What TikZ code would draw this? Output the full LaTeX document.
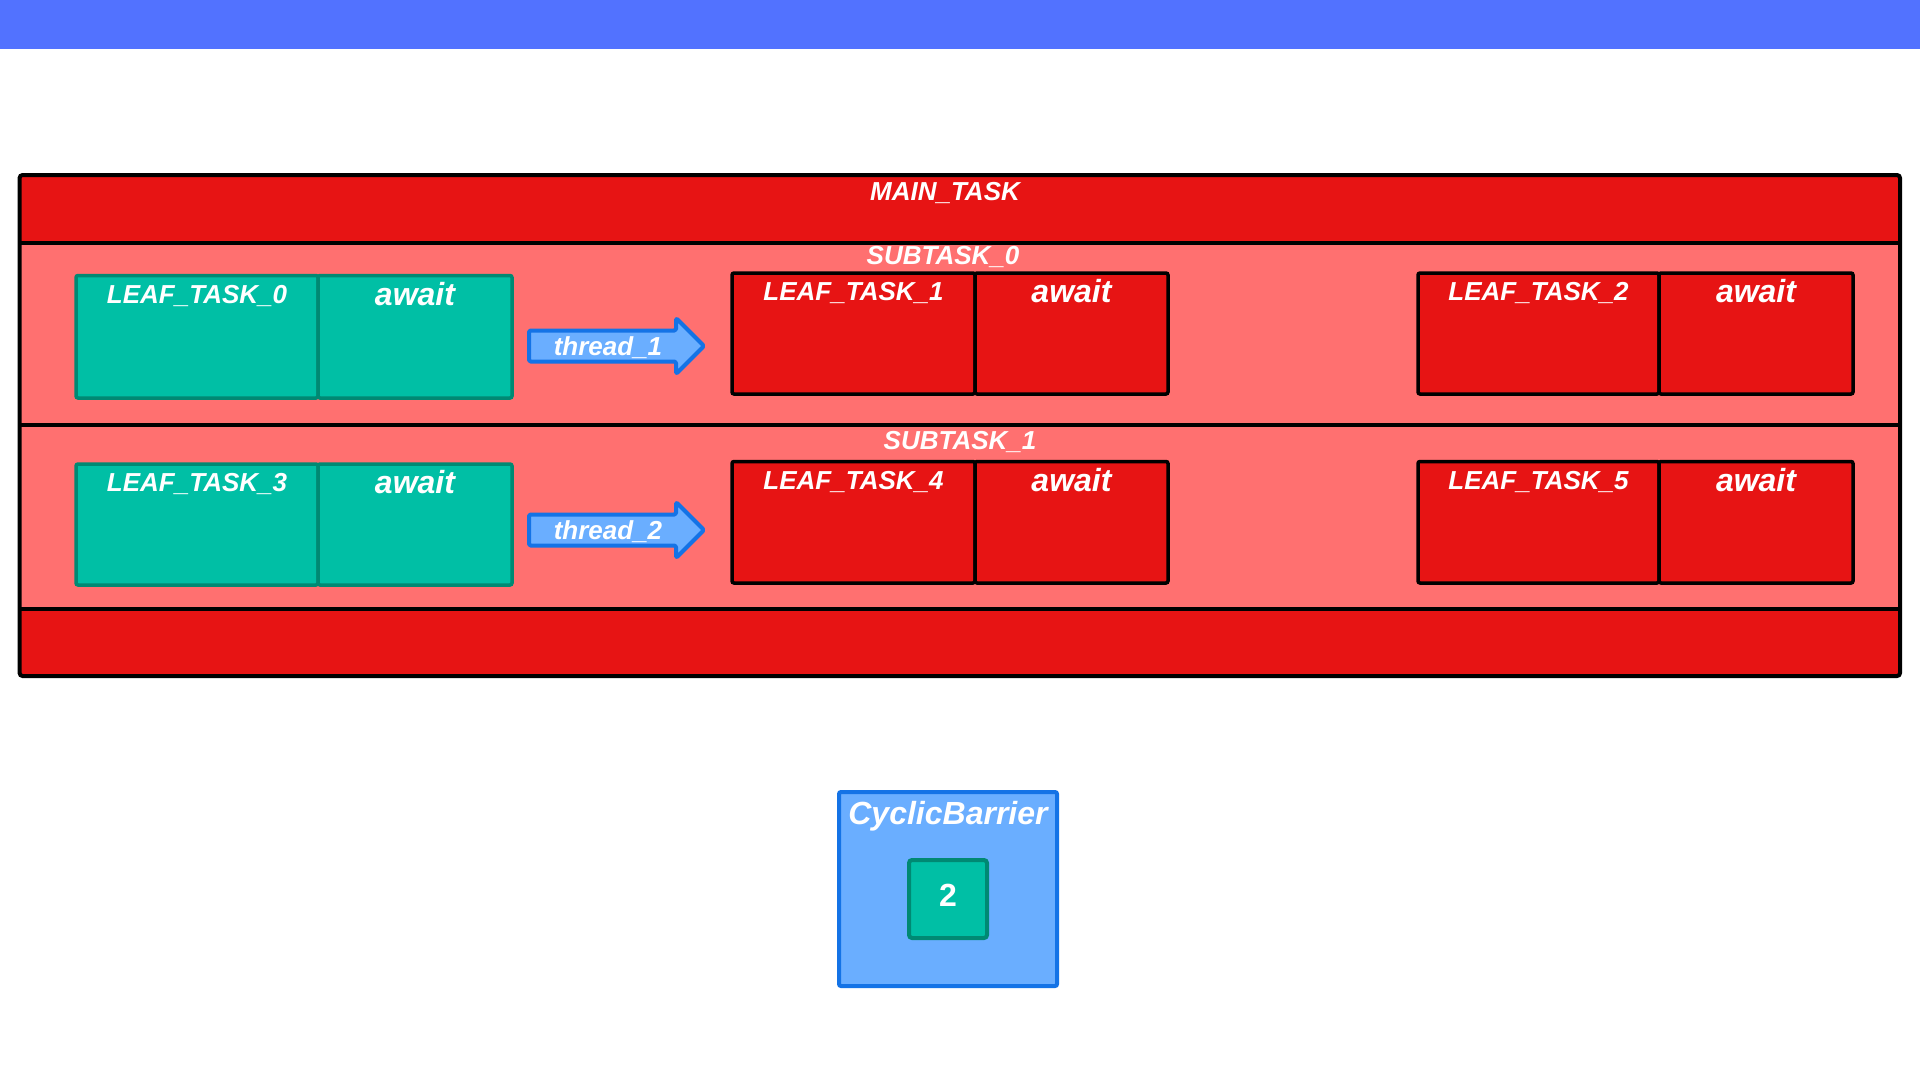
\documentclass[tikz,border=0pt]{standalone}
\usepackage{fontspec}
\setmainfont{Liberation Sans}
\definecolor{bandblue}{RGB}{82,114,255}
\definecolor{taskred}{RGB}{231,20,20}
\definecolor{paleRed}{RGB}{255,112,112}
\definecolor{tealfill}{RGB}{0,191,165}
\definecolor{tealedge}{RGB}{0,137,115}
\definecolor{skyfill}{RGB}{106,174,255}
\definecolor{skyedge}{RGB}{20,115,230}
\tikzset{
  cell/.style={line width=3.5pt, rounded corners=2pt, inner sep=0pt},
  tealcell/.style={cell, draw=tealedge, fill=tealfill},
  redcell/.style={cell, draw=black, fill=taskred},
  lbl/.style={text=white, inner sep=0pt, text height=18.6pt, text depth=0pt,
    font=\fontsize{26}{30}\selectfont\bfseries\itshape},
  biglbl/.style={text=white, inner sep=0pt, text height=23pt, text depth=0pt,
    font=\fontsize{32}{36}\selectfont\bfseries\itshape},
  threadarrow/.style={draw=skyedge, fill=skyfill, line width=4pt, line join=round, rounded corners=1.5pt},
}
% a task cell split into its name part and its await part
\newcommand\leafpair[8]{%
  \node[#7, minimum width={(#3-#2)*1pt}, minimum height={(#6-#5)*1pt}] (#1a) at ({(#2+#3)/2},{(#5+#6)/2}) {};
  \node[#7, minimum width={(#4-#3)*1pt}, minimum height={(#6-#5)*1pt}] (#1b) at ({(#3+#4)/2},{(#5+#6)/2}) {};
  \node[lbl] (#1at) at ([yshift=-20pt]#1a.north) {#8};
  \node[biglbl] (#1bt) at ([yshift=-20pt]#1b.north) {await};
}
% a right-pointing block arrow centred vertically on #1
\newcommand\threadshape[1]{%
  \draw[threadarrow] (529,#1-15.5) -- (676,#1-15.5) -- (676,#1-28) -- (704,#1) -- (676,#1+28) -- (676,#1+15.5) -- (529,#1+15.5) -- cycle;
}
\begin{document}
\begin{tikzpicture}[x=1pt,y=-1pt]
\useasboundingbox (0,0) rectangle (1920,1080);
\fill[white] (0,0) rectangle (1920,1080);
\fill[bandblue] (0,0) rectangle (1920,49);

% main task frame with header and footer bands
\fill[paleRed, rounded corners=3pt] (19.6,175) rectangle (1900,676);
\fill[taskred] (19.6,175) rectangle (1900,242.5);
\fill[taskred] (19.6,608.5) rectangle (1900,676);
\draw[line width=4pt] (19.6,242.5) -- (1900,242.5);
\draw[line width=4pt] (19.6,425) -- (1900,425);
\draw[line width=4pt] (19.6,608.5) -- (1900,608.5);
\draw[line width=4pt, rounded corners=3pt] (19.6,175) rectangle (1900,676);

\node[lbl] (maintask) at (945,191) {MAIN\_TASK};
\node[lbl] (sub0) at (943,255) {SUBTASK\_0};
\node[lbl] (sub1) at (960,440) {SUBTASK\_1};

% first subtask row
\leafpair{lt0}{76}{318}{512}{275.5}{398}{tealcell}{LEAF\_TASK\_0}
\leafpair{lt1}{732}{975}{1168}{273}{394}{redcell}{LEAF\_TASK\_1}
\leafpair{lt2}{1418}{1659}{1853}{273}{394}{redcell}{LEAF\_TASK\_2}
\threadshape{346}
\node[lbl] (th1) at (608,346) {thread\_1};

% second subtask row
\leafpair{lt3}{76}{318}{512}{464}{585}{tealcell}{LEAF\_TASK\_3}
\leafpair{lt4}{732}{975}{1168}{461.5}{583}{redcell}{LEAF\_TASK\_4}
\leafpair{lt5}{1418}{1659}{1853}{461.5}{583}{redcell}{LEAF\_TASK\_5}
\threadshape{530}
\node[lbl] (th2) at (608,530) {thread\_2};

% barrier with its party count
\node[draw=skyedge, fill=skyfill, line width=4pt, rounded corners=2pt, minimum width=218pt, minimum height=194pt] (barrier) at (948,889) {};
\node[biglbl] (barrierlbl) at (948,813) {CyclicBarrier};
\node[draw=tealedge, fill=tealfill, line width=4pt, rounded corners=3pt, minimum width=78pt, minimum height=78pt, inner sep=0pt,
  text height=23pt, text depth=9pt,
  text=white, font=\fontsize{32}{36}\selectfont\bfseries] (count) at (948,899) {2};
\end{tikzpicture}
\end{document}
